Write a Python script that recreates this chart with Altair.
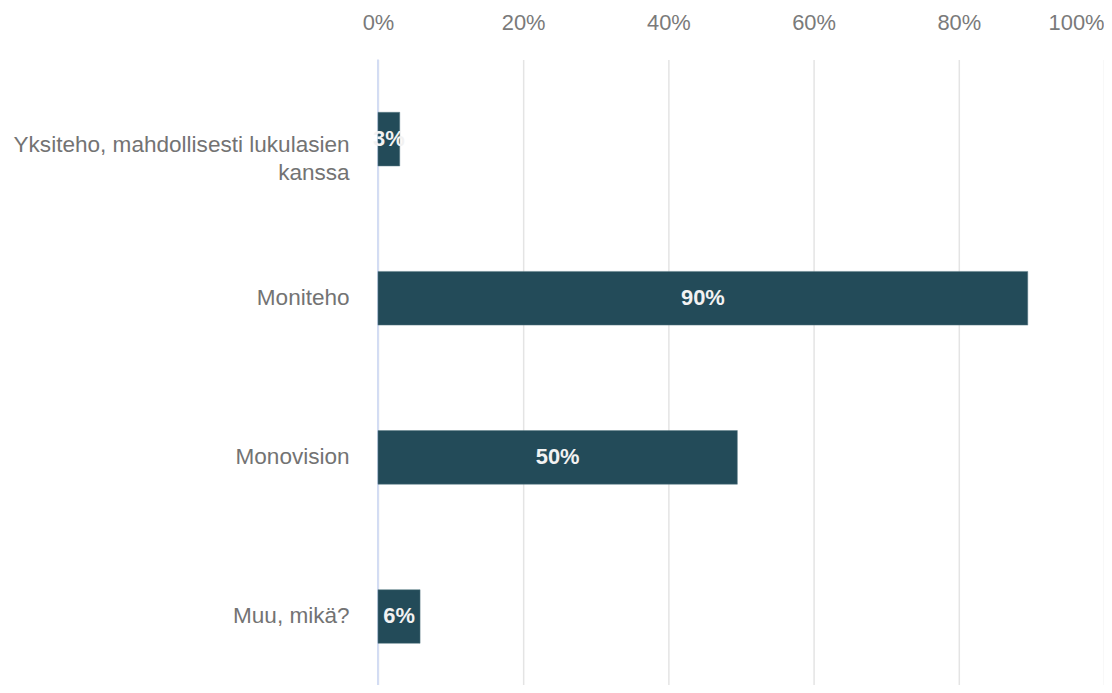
import altair as alt
import pandas as pd

categories = ["Yksiteho, mahdollisesti lukulasien kanssa", "Moniteho", "Monovision", "Muu, mikä?"]
values = [0.03, 0.895, 0.495, 0.058]
labels = ["3%", "90%", "50%", "6%"]

df = pd.DataFrame({"cat": categories, "val": values, "lab": labels})

FONT = "Liberation Sans"
BAR = "#234b59"
LONG = categories[0]

y_enc = alt.Y(
    "cat:N",
    sort=categories,
    title=None,
    scale=alt.Scale(paddingInner=0.6625, paddingOuter=0.33125, range=[0, 640]),
    axis=alt.Axis(
        domain=False,
        ticks=False,
        labelFontSize=22.7,
        labelFont=FONT,
        labelColor="#737373",
        labelPadding=29,
        labelLineHeight=28,
        labelLimit=400,
        labelOffset={"expr": "datum.value == '" + LONG + "' ? 6 : 0"},
        labelExpr="datum.label == '" + LONG + "' ? ['Yksiteho, mahdollisesti lukulasien', 'kanssa'] : datum.label",
    ),
)

x_enc = alt.X(
    "val:Q",
    title=None,
    scale=alt.Scale(domain=[0, 1], nice=False),
    axis=alt.Axis(
        orient="top",
        format=".0%",
        values=[0, 0.2, 0.4, 0.6, 0.8, 1.0],
        domain=False,
        ticks=False,
        labelFontSize=22,
        labelFont=FONT,
        labelColor="#7a7a7a",
        labelPadding=25,
        labelAlign={"expr": "datum.value == 1 ? 'right' : 'center'"},
        gridColor="#e4e4e4",
        gridWidth=1.5,
        labelFlush=False,
    ),
)

bars = alt.Chart(df).mark_bar(color=BAR, stroke="#5f7f8a", strokeWidth=0.5).encode(
    x=x_enc, y=y_enc
)

zero = alt.Chart(pd.DataFrame({"z": [0]})).mark_rule(color="#d3dcf3", strokeWidth=2).encode(
    x=alt.X("z:Q", scale=alt.Scale(domain=[0, 1], nice=False)),
    y=alt.value(0),
    y2=alt.value(640),
)

text = alt.Chart(df).mark_text(
    color="#f2f2f2", font=FONT, fontSize=22, fontWeight="bold", align="center", baseline="middle"
).encode(
    x=alt.X("mid:Q"),
    y=alt.Y("cat:N", sort=categories),
    text="lab:N",
).transform_calculate(mid="datum.val / 2")

chart = (
    alt.layer(zero, bars, text)
    .properties(
        width=730,
        height=627,
        padding={"left": 372, "top": 50, "right": 0, "bottom": 0},
        autosize=alt.AutoSizeParams(type="none"),
    )
    .configure_view(stroke=None)
)

chart.save("out.html", embed_options={"renderer": "svg", "actions": False})
